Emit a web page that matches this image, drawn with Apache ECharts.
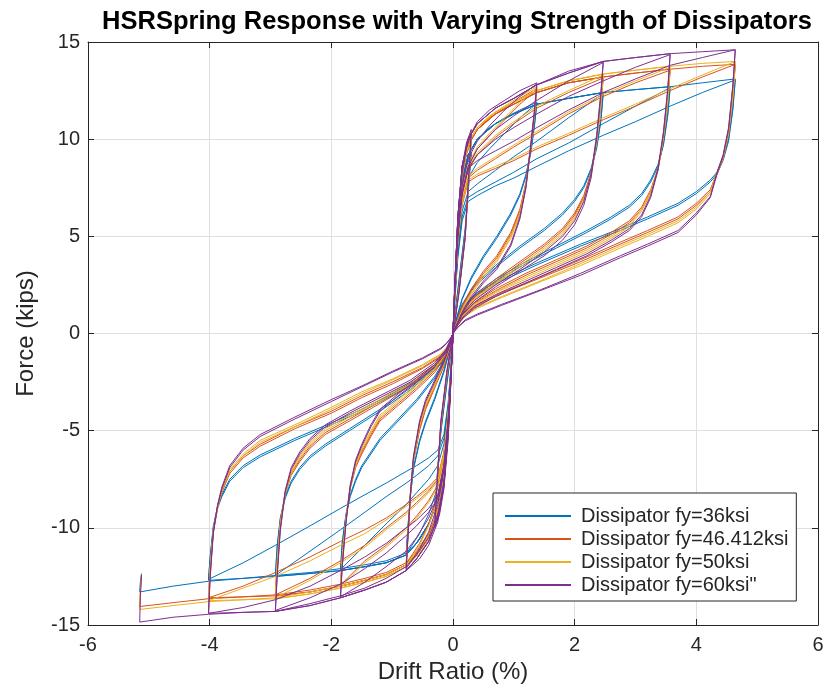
<!DOCTYPE html>
<html>
<head>
<meta charset="utf-8">
<script src="https://cdn.jsdelivr.net/npm/echarts@6/dist/echarts.min.js"></script>
<style>
html,body{margin:0;padding:0;background:#fff;}
#chart{width:827px;height:694px;}
</style>
</head>
<body>
<div id="chart"></div>
<script>
// ---------- DATA ----------
const seriesNames = ['Dissipator fy=36ksi', 'Dissipator fy=46.412ksi', 'Dissipator fy=50ksi', 'Dissipator fy=60ksi"'];
const xTicks = [-6, -4, -2, 0, 2, 4, 6];
const yTicks = [-15, -10, -5, 0, 5, 10, 15];

// drift (%) path of each half-cycle (loading to peak, then unloading back)
const dP03 = [0.03,0.08,0.15,0.22,0.3, 0.27,0.2,0.1,0.03,0];
const dN03 = [-0.03,-0.08,-0.15,-0.22,-0.3, -0.27,-0.2,-0.1,-0.03,0];
const dP1 = [0.03,0.08,0.15,0.25,0.4,0.6,0.85,1.1,1.38, 1.34,1.28,1.2,1.1,0.95,0.72,0.5,0.3,0.15,0.05,0];
const dN1 = [-0.03,-0.08,-0.15,-0.25,-0.4,-0.55,-0.77, -0.74,-0.7,-0.65,-0.55,-0.45,-0.3,-0.15,-0.05,0];
const dP2 = [0.03,0.08,0.15,0.25,0.4,0.7,1.0,1.38,1.9,2.47, 2.43,2.36,2.27,2.15,2.0,1.8,1.5,1.1,0.7,0.35,0.15,0.05,0];
const dN2 = [-0.03,-0.08,-0.15,-0.25,-0.4,-0.6,-0.77,-1.1,-1.45,-1.85, -1.82,-1.76,-1.69,-1.6,-1.5,-1.35,-1.2,-0.9,-0.6,-0.3,-0.12,-0.04,0];
const dP3 = [0.03,0.08,0.15,0.25,0.4,0.7,1.0,1.38,1.9,2.47,3.0,3.57, 3.53,3.46,3.37,3.25,3.1,2.9,2.6,2.2,1.7,1.2,0.7,0.35,0.15,0.05,0];
const dN3 = [-0.03,-0.08,-0.15,-0.25,-0.4,-0.6,-0.77,-1.1,-1.45,-1.85,-2.35,-2.92, -2.89,-2.84,-2.76,-2.66,-2.52,-2.35,-2.1,-1.7,-1.2,-0.7,-0.3,-0.12,-0.04,0];
const dP4 = [0.03,0.08,0.15,0.25,0.4,0.7,1.0,1.38,1.9,2.47,3.0,3.57,4.1,4.64, 4.6,4.53,4.44,4.34,4.23,4.0,3.7,3.2,2.75,2.1,1.43,0.8,0.4,0.2,0.07,0];
const dN4 = [-0.03,-0.08,-0.15,-0.25,-0.4,-0.6,-0.77,-1.1,-1.45,-1.85,-2.35,-2.92,-3.45,-4.02, -3.99,-3.94,-3.87,-3.8,-3.67,-3.45,-3.17,-2.6,-2.0,-1.5,-1.0,-0.5,-0.2,-0.1,-0.03,0];
const dEnd = [-0.03,-0.08,-0.15,-0.25,-0.4,-0.6,-0.77,-1.1,-1.45,-1.85,-2.35,-2.92,-3.45,-4.02,-4.6,-5.15,-5.14,-5.12];
const driftHalves = [dP03,dN03,dP03,dN03, dP1,dN1,dP1,dN1, dP2,dN2,dP2,dN2, dP3,dN3,dP3,dN3, dP4,dN4,dP4,dN4, dEnd];

// force (kips) along each half-cycle, per dissipator
const force36 = [
 [2.3,5.4,7.8,8.8,9.3,8.2,5.4,2.8,0.9,0],
 [-2.0,-4.9,-7.2,-8.3,-8.9,-7.8,-5.1,-2.6,-0.9,0],
 [2.2,5.2,7.5,8.6,9.2,8.1,5.3,2.7,0.9,0],
 [-1.9,-4.7,-7.0,-8.1,-8.8,-7.7,-5.0,-2.5,-0.85,0],
 [2.3,5.4,7.8,9.2,10.0,10.6,11.1,11.5,11.9, 10.8,9.4,8.2,7.2,6.2,5.0,4.0,2.9,1.8,0.7,0],
 [-1.9,-4.6,-7.0,-8.6,-9.8,-10.6,-11.4, -10.0,-8.4,-7.0,-5.6,-4.6,-3.4,-2.0,-0.8,0],
 [2.0,4.7,6.8,8.0,8.8,9.5,10.3,11.1,11.85, 10.7,9.3,8.1,7.1,6.1,4.9,3.9,2.8,1.75,0.65,0],
 [-1.7,-4.1,-6.2,-7.9,-9.3,-10.3,-11.35, -9.9,-8.3,-6.9,-5.5,-4.5,-3.3,-1.9,-0.75,0],
 [2.3,5.4,7.8,9.2,10.0,10.8,11.3,11.8,12.1,12.4, 11.0,9.6,8.5,7.6,6.9,6.2,5.4,4.5,3.5,2.5,1.5,0.6,0],
 [-1.9,-4.6,-7.0,-8.6,-9.8,-10.8,-11.4,-11.8,-12.0,-12.2, -10.8,-9.4,-8.4,-7.6,-6.9,-6.2,-5.5,-4.5,-3.5,-2.3,-1.3,-0.5,0],
 [1.9,4.3,6.3,7.3,7.7,8.4,9.1,9.9,11.1,12.35, 10.9,9.5,8.4,7.5,6.8,6.1,5.3,4.4,3.4,2.4,1.45,0.55,0],
 [-1.7,-3.9,-5.7,-6.8,-7.5,-8.2,-8.8,-9.8,-10.9,-12.15, -10.7,-9.3,-8.3,-7.5,-6.8,-6.1,-5.4,-4.4,-3.4,-2.2,-1.25,-0.5,0],
 [2.3,5.4,7.8,9.2,10.0,10.8,11.3,11.8,12.1,12.4,12.55,12.7, 11.3,9.8,8.7,7.9,7.2,6.6,6.0,5.3,4.5,3.7,2.8,2.0,1.3,0.5,0],
 [-1.9,-4.6,-7.0,-8.6,-9.8,-10.8,-11.4,-11.8,-12.0,-12.2,-12.35,-12.5, -11.0,-9.6,-8.5,-7.7,-7.0,-6.4,-5.8,-5.0,-4.0,-2.9,-1.8,-1.1,-0.45,0],
 [1.8,4.1,6.0,7.0,7.3,7.8,8.3,9.0,9.8,10.8,11.7,12.65, 11.2,9.7,8.6,7.8,7.1,6.5,5.9,5.2,4.4,3.6,2.7,1.9,1.25,0.5,0],
 [-1.6,-3.7,-5.4,-6.3,-6.8,-7.3,-7.7,-8.4,-9.2,-10.1,-11.2,-12.45, -10.9,-9.5,-8.4,-7.6,-6.9,-6.3,-5.7,-4.9,-3.9,-2.8,-1.75,-1.05,-0.4,0],
 [2.3,5.4,7.8,9.2,10.0,10.8,11.3,11.8,12.1,12.4,12.55,12.7,12.9,13.1, 11.6,10.0,9.0,8.3,7.9,7.3,6.7,6.0,5.4,4.6,3.7,2.8,2.1,1.5,0.6,0],
 [-1.9,-4.6,-7.0,-8.6,-9.8,-10.8,-11.4,-11.8,-12.0,-12.2,-12.35,-12.5,-12.6,-12.7, -11.5,-10.0,-9.0,-8.4,-7.6,-6.9,-6.35,-5.5,-4.7,-4.0,-3.2,-2.3,-1.6,-1.1,-0.45,0],
 [1.7,3.9,5.8,6.8,7.1,7.6,8.0,8.6,9.4,10.2,10.9,11.7,12.4,13.05, 11.5,9.9,8.9,8.2,7.8,7.2,6.6,5.9,5.3,4.5,3.6,2.7,2.0,1.45,0.55,0],
 [-1.6,-3.6,-5.2,-6.0,-6.4,-6.8,-7.1,-7.7,-8.3,-9.0,-9.9,-10.9,-11.8,-12.65, -11.4,-9.9,-8.9,-8.3,-7.5,-6.8,-6.25,-5.4,-4.6,-3.9,-3.1,-2.2,-1.55,-1.05,-0.42,0],
 [-1.9,-4.6,-7.0,-8.6,-9.8,-10.8,-11.3,-11.7,-11.9,-12.1,-12.3,-12.45,-12.6,-12.75,-13.0,-13.3,-12.8,-12.35]
];
const force46 = [
 [2.4,5.8,8.3,9.5,10.1,8.6,5.1,2.4,0.7,0],
 [-2.1,-5.3,-7.7,-9.0,-9.6,-8.1,-4.8,-2.2,-0.7,0],
 [2.3,5.5,8.0,9.2,9.9,8.4,5.0,2.3,0.7,0],
 [-2.0,-5.0,-7.4,-8.7,-9.4,-7.9,-4.7,-2.1,-0.7,0],
 [2.4,5.8,8.3,9.7,10.5,11.1,11.6,12.1,12.6, 11.3,9.7,7.8,6.4,5.2,4.0,3.2,2.3,1.4,0.5,0],
 [-2.0,-5.0,-7.6,-9.3,-10.5,-11.2,-11.9, -10.3,-8.3,-6.6,-5.0,-3.9,-2.8,-1.7,-0.7,0],
 [2.1,5.0,7.3,8.6,9.5,10.2,11.0,11.8,12.55, 11.2,9.6,7.7,6.3,5.1,3.9,3.1,2.2,1.35,0.45,0],
 [-1.8,-4.4,-6.7,-8.4,-9.8,-10.8,-11.85, -10.2,-8.2,-6.5,-4.9,-3.8,-2.7,-1.65,-0.65,0],
 [2.4,5.8,8.3,9.7,10.5,11.3,11.8,12.4,12.9,13.2, 11.8,9.9,8.3,7.1,6.2,5.4,4.6,3.7,2.8,1.9,1.15,0.45,0],
 [-2.0,-4.9,-7.5,-9.2,-10.4,-11.3,-11.9,-12.4,-12.7,-13.0, -11.5,-9.6,-8.0,-6.9,-6.2,-5.3,-4.5,-3.7,-2.9,-2.0,-1.15,-0.45,0],
 [2.1,4.9,7.1,8.4,9.2,10.1,10.8,11.6,12.4,13.15, 11.7,9.8,8.2,7.0,6.1,5.3,4.5,3.6,2.7,1.85,1.1,0.4,0],
 [-1.8,-4.3,-6.4,-7.8,-8.6,-9.4,-10.0,-10.9,-11.7,-12.95, -11.4,-9.5,-7.9,-6.8,-6.1,-5.2,-4.4,-3.6,-2.8,-1.9,-1.1,-0.4,0],
 [2.4,5.8,8.3,9.7,10.5,11.3,11.8,12.4,12.9,13.2,13.4,13.6, 12.0,10.1,8.5,7.4,6.5,5.8,5.2,4.5,3.8,3.1,2.3,1.6,0.95,0.4,0],
 [-2.0,-4.9,-7.5,-9.2,-10.4,-11.3,-11.9,-12.4,-12.7,-13.0,-13.3,-13.5, -11.8,-9.8,-8.3,-7.3,-6.6,-5.9,-5.2,-4.5,-3.6,-2.7,-1.7,-1.0,-0.4,0],
 [2.0,4.7,6.8,8.0,8.4,9.0,9.6,10.3,11.3,12.2,12.9,13.55, 11.9,10.0,8.4,7.3,6.4,5.7,5.1,4.4,3.7,3.0,2.2,1.55,0.9,0.38,0],
 [-1.8,-4.2,-6.2,-7.5,-8.1,-8.7,-9.2,-10.0,-10.9,-11.7,-12.6,-13.45, -11.7,-9.7,-8.2,-7.2,-6.5,-5.8,-5.1,-4.4,-3.5,-2.6,-1.65,-0.95,-0.38,0],
 [2.4,5.8,8.3,9.7,10.5,11.3,11.8,12.4,12.9,13.2,13.4,13.6,13.75,13.85, 12.2,10.3,9.1,8.3,7.4,6.7,6.0,5.3,4.7,3.8,2.9,2.1,1.5,1.05,0.45,0],
 [-2.0,-4.9,-7.5,-9.2,-10.4,-11.3,-11.9,-12.4,-12.7,-13.0,-13.3,-13.5,-13.55,-13.6, -12.0,-10.2,-9.0,-8.2,-7.2,-6.4,-5.8,-4.9,-4.1,-3.3,-2.6,-1.8,-1.2,-0.8,-0.3,0],
 [2.0,4.6,6.6,7.8,8.1,8.5,8.9,9.5,10.2,11.0,11.7,12.5,13.2,13.85, 12.1,10.2,9.0,8.2,7.3,6.6,5.9,5.2,4.6,3.7,2.85,2.05,1.45,1.0,0.42,0],
 [-1.8,-4.1,-6.1,-7.4,-7.9,-8.4,-8.8,-9.5,-10.1,-10.7,-11.5,-12.3,-13.0,-13.6, -11.9,-10.1,-8.9,-8.1,-7.1,-6.3,-5.7,-4.8,-4.0,-3.2,-2.5,-1.75,-1.15,-0.75,-0.28,0],
 [-2.0,-4.9,-7.4,-9.1,-10.3,-11.2,-11.8,-12.3,-12.6,-12.9,-13.2,-13.45,-13.55,-13.65,-13.85,-14.05,-13.3,-12.4]
];
const force50 = [
 [2.4,5.9,8.4,9.6,10.2,8.7,5.0,2.3,0.65,0],
 [-2.1,-5.4,-7.8,-9.1,-9.7,-8.2,-4.7,-2.1,-0.65,0],
 [2.3,5.6,8.1,9.3,10.0,8.5,4.9,2.2,0.65,0],
 [-2.0,-5.1,-7.5,-8.8,-9.5,-8.0,-4.6,-2.0,-0.65,0],
 [2.4,5.9,8.4,9.8,10.6,11.2,11.7,12.2,12.7, 11.4,9.7,7.7,6.2,5.0,3.8,3.0,2.1,1.25,0.45,0],
 [-2.0,-5.1,-7.7,-9.4,-10.6,-11.3,-12.0, -10.4,-8.3,-6.5,-4.8,-3.7,-2.7,-1.6,-0.65,0],
 [2.1,5.1,7.4,8.7,9.6,10.3,11.1,11.9,12.65, 11.3,9.6,7.6,6.1,4.9,3.7,2.9,2.0,1.2,0.4,0],
 [-1.8,-4.5,-6.8,-8.5,-9.9,-10.9,-11.95, -10.3,-8.2,-6.4,-4.7,-3.6,-2.6,-1.55,-0.6,0],
 [2.4,5.9,8.4,9.8,10.6,11.4,11.9,12.5,13.0,13.35, 11.9,9.9,8.2,6.9,6.0,5.2,4.4,3.5,2.6,1.8,1.05,0.4,0],
 [-2.0,-5.0,-7.6,-9.3,-10.5,-11.4,-12.0,-12.5,-12.8,-13.1, -11.6,-9.6,-7.9,-6.8,-6.0,-5.1,-4.3,-3.5,-2.7,-1.85,-1.05,-0.42,0],
 [2.1,5.0,7.2,8.5,9.3,10.2,10.9,11.7,12.5,13.3, 11.8,9.8,8.1,6.8,5.9,5.1,4.3,3.4,2.55,1.75,1.0,0.38,0],
 [-1.8,-4.3,-6.5,-7.9,-8.7,-9.5,-10.1,-11.0,-11.8,-13.05, -11.5,-9.5,-7.8,-6.7,-5.9,-5.0,-4.2,-3.4,-2.6,-1.8,-1.0,-0.4,0],
 [2.4,5.9,8.4,9.8,10.6,11.4,11.9,12.5,13.0,13.35,13.55,13.75, 12.1,10.2,8.5,7.3,6.4,5.6,5.0,4.3,3.6,2.9,2.15,1.5,0.9,0.35,0],
 [-2.0,-5.0,-7.6,-9.3,-10.5,-11.4,-12.0,-12.5,-12.8,-13.1,-13.4,-13.65, -11.9,-9.9,-8.3,-7.2,-6.4,-5.7,-5.0,-4.3,-3.5,-2.6,-1.65,-0.95,-0.38,0],
 [2.0,4.8,6.9,8.1,8.5,9.1,9.7,10.4,11.4,12.3,13.0,13.7, 12.0,10.1,8.4,7.2,6.3,5.5,4.9,4.2,3.5,2.8,2.1,1.45,0.85,0.33,0],
 [-1.8,-4.2,-6.3,-7.6,-8.2,-8.8,-9.3,-10.1,-11.0,-11.8,-12.7,-13.6, -11.8,-9.8,-8.2,-7.1,-6.3,-5.6,-4.9,-4.2,-3.4,-2.5,-1.6,-0.9,-0.35,0],
 [2.4,5.9,8.4,9.8,10.6,11.4,11.9,12.5,13.0,13.35,13.55,13.75,13.9,14.0, 12.3,10.4,9.1,8.3,7.3,6.5,5.8,5.1,4.5,3.6,2.7,1.9,1.35,0.95,0.4,0],
 [-2.0,-5.0,-7.6,-9.3,-10.5,-11.4,-12.0,-12.5,-12.8,-13.1,-13.4,-13.65,-13.7,-13.75, -12.1,-10.2,-9.0,-8.1,-7.1,-6.3,-5.6,-4.8,-3.9,-3.1,-2.4,-1.65,-1.1,-0.72,-0.28,0],
 [2.0,4.7,6.7,7.9,8.2,8.6,9.0,9.6,10.3,11.1,11.8,12.6,13.3,14.0, 12.2,10.3,9.0,8.2,7.2,6.4,5.7,5.0,4.4,3.5,2.65,1.85,1.3,0.9,0.38,0],
 [-1.8,-4.1,-6.2,-7.5,-8.0,-8.5,-8.9,-9.6,-10.3,-10.9,-11.7,-12.5,-13.1,-13.75, -12.0,-10.1,-8.9,-8.0,-7.0,-6.2,-5.5,-4.7,-3.8,-3.0,-2.35,-1.6,-1.05,-0.7,-0.26,0],
 [-2.0,-5.0,-7.5,-9.2,-10.4,-11.3,-11.9,-12.4,-12.7,-13.0,-13.3,-13.6,-13.7,-13.8,-14.0,-14.2,-13.4,-12.4]
];
const force60 = [
 [2.5,6.0,8.6,9.8,10.5,8.8,5.0,2.2,0.6,0],
 [-2.2,-5.5,-8.0,-9.3,-10.0,-8.3,-4.6,-2.0,-0.6,0],
 [2.3,5.6,8.2,9.5,10.3,8.6,4.9,2.1,0.6,0],
 [-2.0,-5.2,-7.7,-9.0,-9.8,-8.1,-4.5,-1.9,-0.6,0],
 [2.5,6.0,8.6,10.0,10.9,11.5,12.0,12.5,12.9, 11.6,9.8,7.6,6.0,4.6,3.4,2.7,1.9,1.1,0.4,0],
 [-2.1,-5.2,-7.9,-9.7,-10.9,-11.6,-12.2, -10.5,-8.3,-6.4,-4.6,-3.5,-2.5,-1.5,-0.6,0],
 [2.2,5.2,7.6,9.0,9.9,10.7,11.5,12.2,12.85, 11.4,9.6,7.5,5.9,4.5,3.3,2.6,1.8,1.0,0.35,0],
 [-1.9,-4.6,-7.0,-8.8,-10.2,-11.1,-12.1, -10.4,-8.2,-6.3,-4.5,-3.4,-2.4,-1.4,-0.55,0],
 [2.5,6.0,8.6,10.0,10.8,11.6,12.1,12.8,13.5,14.0, 12.4,10.2,8.2,6.8,5.8,5.0,4.2,3.3,2.5,1.7,1.0,0.4,0],
 [-2.0,-5.0,-7.8,-9.5,-10.7,-11.6,-12.2,-12.8,-13.2,-13.6, -12.0,-9.8,-7.9,-6.6,-5.8,-4.8,-4.0,-3.2,-2.5,-1.7,-1.0,-0.4,0],
 [2.2,5.0,7.3,8.6,9.5,10.5,11.2,12.0,13.0,13.95, 12.2,10.0,8.0,6.6,5.6,4.8,4.0,3.2,2.4,1.6,0.95,0.35,0],
 [-1.8,-4.4,-6.8,-8.4,-9.5,-10.5,-11.2,-12.0,-12.8,-13.55, -11.9,-9.7,-7.8,-6.5,-5.7,-4.7,-3.9,-3.1,-2.4,-1.6,-0.95,-0.35,0],
 [2.5,6.0,8.6,10.0,10.8,11.6,12.1,12.8,13.4,14.0,14.2,14.4, 12.6,10.4,8.5,7.1,6.1,5.4,4.8,4.1,3.4,2.7,2.0,1.4,0.8,0.3,0],
 [-2.0,-5.0,-7.8,-9.5,-10.7,-11.6,-12.2,-12.8,-13.2,-13.6,-14.0,-14.3, -12.5,-10.2,-8.2,-7.0,-6.2,-5.5,-4.8,-4.1,-3.3,-2.5,-1.6,-0.9,-0.35,0],
 [2.2,5.0,7.2,8.5,9.2,10.0,10.6,11.3,12.2,13.0,13.7,14.35, 12.5,10.3,8.4,7.0,6.0,5.3,4.7,4.0,3.3,2.6,1.9,1.3,0.75,0.3,0],
 [-1.9,-4.6,-6.9,-8.5,-9.2,-9.9,-10.4,-11.3,-12.1,-12.9,-13.6,-14.25, -12.4,-10.1,-8.1,-6.9,-6.1,-5.4,-4.7,-4.0,-3.2,-2.4,-1.5,-0.85,-0.3,0],
 [2.5,6.0,8.6,10.0,10.8,11.6,12.1,12.8,13.4,14.0,14.2,14.4,14.5,14.6, 12.8,10.6,9.2,8.3,7.05,6.2,5.3,4.6,4.0,3.1,2.24,1.5,1.0,0.7,0.3,0],
 [-2.0,-5.0,-7.8,-9.5,-10.7,-11.6,-12.2,-12.8,-13.2,-13.6,-14.0,-14.3,-14.35,-14.4, -12.5,-10.3,-8.9,-8.0,-6.9,-6.0,-5.3,-4.4,-3.5,-2.75,-2.0,-1.3,-0.8,-0.5,-0.2,0],
 [2.2,5.0,7.2,8.5,8.9,9.4,9.9,10.6,11.5,12.4,13.1,13.8,14.2,14.6, 12.7,10.5,9.1,8.2,7.0,6.1,5.2,4.5,3.9,3.0,2.2,1.45,0.95,0.65,0.28,0],
 [-1.9,-4.5,-6.8,-8.3,-9.0,-9.6,-10.0,-10.8,-11.5,-12.2,-13.0,-13.7,-14.1,-14.4, -12.4,-10.2,-8.8,-7.9,-6.8,-5.9,-5.2,-4.3,-3.4,-2.7,-1.95,-1.25,-0.75,-0.48,-0.18,0],
 [-2.0,-5.0,-7.6,-9.3,-10.5,-11.4,-12.0,-12.6,-13.1,-13.5,-13.9,-14.3,-14.35,-14.45,-14.6,-14.85,-13.6,-12.4]
];
const seriesColors = ['#0072BD', '#D95319', '#EDB120', '#7E2F8E'];

// ---------- BUILD ----------
function buildPath(forceHalves) {
  const pts = [[0, 0]];
  driftHalves.forEach((d, i) => {
    const f = forceHalves[i];
    const n = Math.min(d.length, f.length);
    if (d.length !== f.length) console.warn('length mismatch at half', i, d.length, f.length);
    for (let k = 0; k < n; k++) pts.push([d[k], f[k]]);
  });
  return pts;
}
const allForces = [force36, force46, force50, force60];

const FONT = '"Liberation Sans", Arial, Helvetica, sans-serif';
const AX = '#262626';
const chart = echarts.init(document.getElementById('chart'), null, {renderer: 'canvas'});

const baseX = {
  type: 'value', min: xTicks[0], max: xTicks[xTicks.length - 1], interval: 2,
  axisLine: {show: true, onZero: false, lineStyle: {color: AX, width: 1}},
  axisTick: {show: true, inside: true, length: 6, lineStyle: {color: AX}},
  splitLine: {show: false}
};
const baseY = {
  type: 'value', min: yTicks[0], max: yTicks[yTicks.length - 1], interval: 5,
  axisLine: {show: true, onZero: false, lineStyle: {color: AX, width: 1}},
  axisTick: {show: true, inside: true, length: 6, lineStyle: {color: AX}},
  splitLine: {show: false}
};

chart.setOption({
  animation: false,
  backgroundColor: '#ffffff',
  title: {
    text: 'HSRSpring Response with Varying Strength of Dissipators',
    left: 452, top: 4, textAlign: 'center',
    textStyle: {fontFamily: FONT, fontSize: 25.5, fontWeight: 'bold', color: '#000'}
  },
  grid: {left: 88, right: 9, top: 42, bottom: 69, containLabel: false},
  xAxis: [
    Object.assign({}, baseX, {
      position: 'bottom',
      axisLabel: {show: true, color: AX, fontFamily: FONT, fontSize: 20, margin: 10},
      splitLine: {show: true, lineStyle: {color: '#dfdfdf', width: 1}},
      name: 'Drift Ratio (%)', nameLocation: 'middle', nameGap: 33,
      nameTextStyle: {fontFamily: FONT, fontSize: 24, color: AX}
    }),
    Object.assign({}, baseX, {position: 'top', axisLabel: {show: false}})
  ],
  yAxis: [
    Object.assign({}, baseY, {
      position: 'left',
      axisLabel: {show: true, color: AX, fontFamily: FONT, fontSize: 20, margin: 8},
      splitLine: {show: true, lineStyle: {color: '#dfdfdf', width: 1}},
      name: 'Force (kips)', nameLocation: 'middle', nameGap: 50,
      nameTextStyle: {fontFamily: FONT, fontSize: 24, color: AX}
    }),
    Object.assign({}, baseY, {position: 'right', axisLabel: {show: false}})
  ],
  legend: {
    orient: 'vertical', left: 493, top: 493,
    backgroundColor: '#ffffff', borderColor: AX, borderWidth: 1,
    padding: [13, 8, 6, 12], itemGap: 3, itemWidth: 66, itemHeight: 2,
    icon: 'rect',
    textStyle: {fontFamily: FONT, fontSize: 20, color: AX, padding: [0, 0, 0, 5]},
    data: seriesNames
  },
  series: seriesNames.map((name, i) => ({
    name: name, type: 'line', xAxisIndex: 0, yAxisIndex: 0,
    data: buildPath(allForces[i]),
    showSymbol: false, symbol: 'none', smooth: false, clip: true,
    lineStyle: {color: seriesColors[i], width: 1},
    itemStyle: {color: seriesColors[i]},
    emphasis: {disabled: true}
  }))
});
</script>
</body>
</html>
